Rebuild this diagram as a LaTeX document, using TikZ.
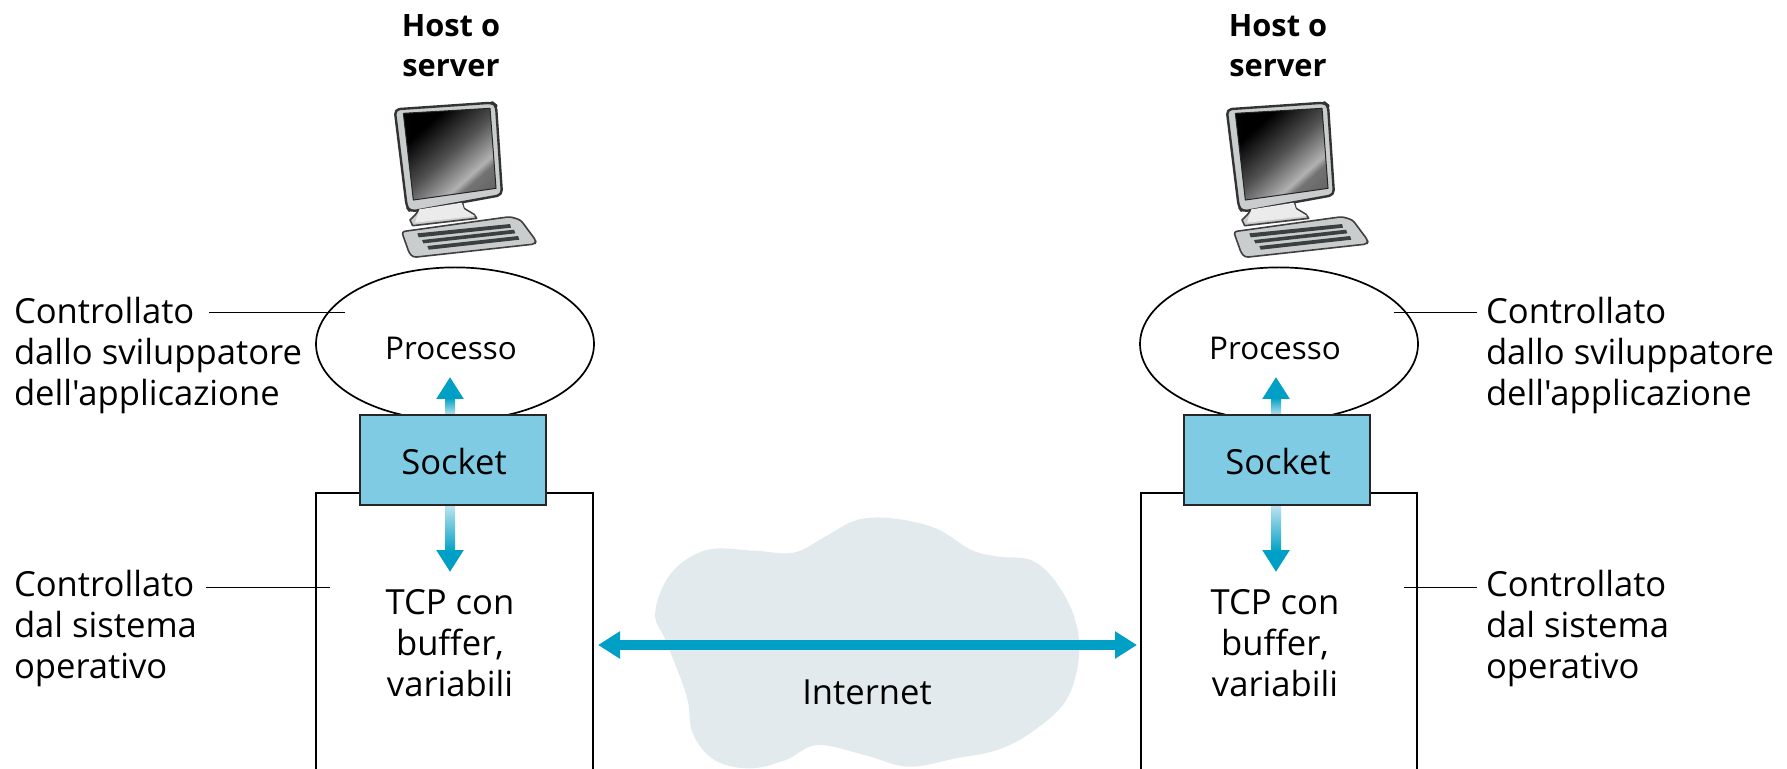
\documentclass[tikz,border=0pt]{standalone}
\usepackage{fontspec}
\setmainfont{Open Sans}[Ligatures=TeXOff]
\usetikzlibrary{shapes.geometric,arrows.meta}
\definecolor{arrowblue}{HTML}{00A0C6}
\definecolor{fadeblue}{HTML}{BFE4EF}
\definecolor{socketblue}{HTML}{7FCBE4}
\definecolor{cloudgray}{HTML}{E3EAED}
\definecolor{bezel}{HTML}{C9CDCD}
\definecolor{keydark}{HTML}{3A3F40}
\pgfdeclarehorizontalshading{screenshade}{100bp}{color(0bp)=(black); color(30bp)=(black); color(50bp)=(black!68); color(63bp)=(black!38); color(66bp)=(black!30); color(70bp)=(black!55); color(100bp)=(black!72)}
\tikzset{
 x=0.5pt,y=-0.5pt,
 every node/.style={inner sep=0pt,outer sep=0pt},
 txt/.style={font=\fontsize{17.3}{20.5}\selectfont,align=left,text=black},
 ctxt/.style={font=\fontsize{17.3}{20.5}\selectfont,align=center,text=black},
 proctxt/.style={font=\fontsize{15.7}{20.5}\selectfont,align=center,text=black},
 headtxt/.style={font=\fontsize{15.4}{20}\selectfont\bfseries,align=center,text=black},
 outline/.style={draw=black,line width=0.85pt},
 procshape/.style={ellipse,outline,fill=white,minimum width=139pt,minimum height=76.6pt},
 sockbox/.style={rectangle,draw=black!85,line width=0.85pt,fill=socketblue,minimum width=93pt,minimum height=45pt},
 leader/.style={draw=black,line width=0.4pt},
 bluearrow/.style={draw=arrowblue,line width=5pt,-{Triangle[length=11pt,width=13pt]}},
 bothblue/.style={draw=arrowblue,line width=5pt,{Triangle[length=11pt,width=13pt]}-{Triangle[length=11pt,width=13pt]}},
 pics/computer/.style={code={
  \begin{scope}[x=0.1667pt,y=-0.1667pt,line join=round]
   \path[draw=black!75,line width=0.8pt,fill=bezel] (185,380) -- (165,405) -- (150,420) -- (158,437) -- (350,415) -- (342,403) -- (312,385) -- (305,360) -- cycle;
   \path[draw=black!80,line width=1.2pt,fill=bezel,rounded corners=2.5pt] (104,88) -- (398,68) -- (408,76) -- (426,345) -- (150,395) -- (140,380) -- cycle;
   \path[draw=black!85,line width=0.5pt,shading=screenshade,shading angle=-48] (130,100) -- (390,85) -- (408,325) -- (160,360) -- cycle;
   \path[fill=black!8] (178,388) -- (305,368) -- (312,388) -- (345,408) -- (165,428) -- cycle;
   \path[draw=black!75,line width=0.8pt,fill=bezel,rounded corners=1.5pt] (125,455) -- (450,410) -- (482,420) -- (528,482) -- (525,492) -- (160,532) -- (148,520) -- cycle;
   \path[fill=keydark] (172,460) -- (450,432) -- (453,443) -- (176,472) -- cycle;
   \path[fill=keydark] (186,480) -- (462,449) -- (466,460) -- (190,490) -- cycle;
   \path[fill=keydark] (202,498) -- (474,468) -- (478,479) -- (206,509) -- cycle;
  \end{scope}}}
}
\begin{document}
\begin{tikzpicture}
\useasboundingbox (0,0) rectangle (1787,769);
\clip (0,0) rectangle (1787,769);
% cloud
\begin{scope}[shift={(580,500)},x=0.1977pt,y=-0.1667pt]
 \fill[cloudgray] plot[smooth cycle,tension=0.6] coordinates {(190,340) (230,220) (320,150) (440,152) (540,158) (620,110) (700,60) (790,55) (900,85) (990,150) (1060,170) (1140,180) (1200,240) (1250,350) (1262,470) (1230,600) (1150,690) (1060,748) (950,775) (830,800) (720,765) (600,735) (520,780) (430,805) (340,780) (285,700) (270,590) (220,430)};
\end{scope}
% boxes
\coordinate (lbTL) at (316,493); \coordinate (lbTR) at (593,493);
\coordinate (lbBL) at (316,775); \coordinate (lbBR) at (593,775);
\coordinate (rbTL) at (1141,493); \coordinate (rbTR) at (1417,493);
\coordinate (rbBL) at (1141,775); \coordinate (rbBR) at (1417,775);
\draw[outline] (lbBL) -- (lbTL) -- (lbTR) -- (lbBR);
\draw[outline] (rbBL) -- (rbTL) -- (rbTR) -- (rbBR);
% computers
\pic at (360,80) {computer};
\pic at (1192,80) {computer};
% processes
\node[procshape] (lproc) at (455,344) {};
\node[procshape] (rproc) at (1279,344) {};
\node[proctxt,anchor=center] (lproct) at (451,348) {Processo};
\node[proctxt,anchor=center] (rproct) at (1275,348) {Processo};
% sockets
\coordinate (lup) at (450,377); \coordinate (ldn) at (450,572);
\coordinate (rup) at (1276,377); \coordinate (rdn) at (1276,572);
\node[sockbox] (lsock) at (453,460) {};
\node[sockbox] (rsock) at (1277,460) {};
\draw[bluearrow] (lsock.north -| lup) -- (lup);
\draw[bluearrow] (lsock.south -| ldn) -- (ldn);
\draw[bluearrow] (rsock.north -| rup) -- (rup);
\draw[bluearrow] (rsock.south -| rdn) -- (rdn);
\shade[bottom color=fadeblue,top color=arrowblue] (445,398) rectangle (455,415);
\shade[top color=fadeblue,bottom color=arrowblue] (445,505) rectangle (455,552);
\shade[bottom color=fadeblue,top color=arrowblue] (1271,398) rectangle (1281,415);
\shade[top color=fadeblue,bottom color=arrowblue] (1271,505) rectangle (1281,552);
\node[sockbox] at (453,460) {};
\node[sockbox] at (1277,460) {};
\node[ctxt] (lsockt) at (454,462) {Socket};
\node[ctxt] (rsockt) at (1278,462) {Socket};
% internet
\coordinate (inL) at (598,645); \coordinate (inR) at (1137,645);
\draw[bothblue] (inL) -- (inR);
\node[ctxt] (inet) at (867,692) {Internet};
% tcp labels
\node[ctxt] (ltcp) at (450,643) {TCP con\\buffer,\\variabili};
\node[ctxt] (rtcp) at (1275,643) {TCP con\\buffer,\\variabili};
% host labels
\node[headtxt] (lhost) at (451,46) {Host o\\server};
\node[headtxt] (rhost) at (1278,46) {Host o\\server};
% side labels
\node[txt,anchor=west] (l1) at (14,356) {Controllato\\dallo sviluppatore\\dell'applicazione};
\node[txt,anchor=west] (l2) at (14,629) {Controllato\\dal sistema\\operativo};
\node[txt,anchor=west] (r1) at (1486,356) {Controllato\\dallo sviluppatore\\dell'applicazione};
\node[txt,anchor=west] (r2) at (1486,629) {Controllato\\dal sistema\\operativo};
% leaders
\coordinate (la) at (345,312); \coordinate (lb) at (330,587);
\coordinate (ra) at (1394,312); \coordinate (rb) at (1404,587);
\coordinate (lae) at (209,312); \coordinate (lbe) at (206,587);
\coordinate (rae) at (1477,312); \coordinate (rbe) at (1477,587);
\draw[leader] (lae) -- (la);
\draw[leader] (lbe) -- (lb);
\draw[leader] (ra) -- (rae);
\draw[leader] (rb) -- (rbe);
\end{tikzpicture}
\end{document}
